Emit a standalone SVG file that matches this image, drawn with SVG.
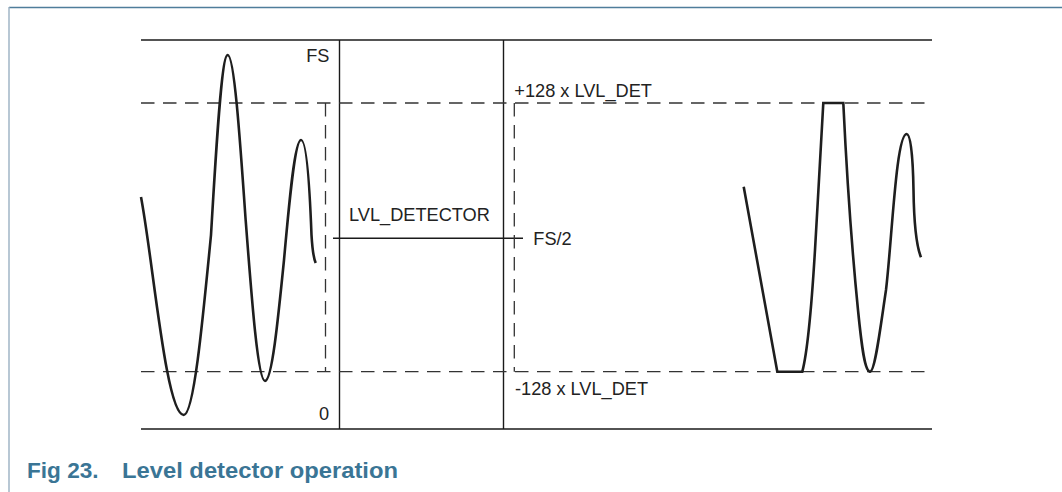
<svg xmlns="http://www.w3.org/2000/svg" width="1062" height="492" viewBox="0 0 1062 492">
<style>
.lbl{font-family:"Liberation Sans",Arial,sans-serif;font-size:18.2px;fill:#222}
.cap{font-family:"Liberation Sans",Arial,sans-serif;font-size:22.6px;font-weight:bold;fill:#3a7595}
.solid{stroke:#1a1a1a;stroke-width:1.4;fill:none}
.dash{stroke:#333;stroke-width:1.3;fill:none;stroke-dasharray:13.5 8.5}
.wave{stroke:#1e1e1e;stroke-width:2.6;fill:none;stroke-linejoin:miter}
</style>
<rect width="1062" height="492" fill="#fff"/>
<g id="frame">
<line x1="9" y1="7.5" x2="1062" y2="7.5" stroke="#4f7d9b" stroke-width="1.6"/>
<line x1="9" y1="7" x2="9" y2="492" stroke="#9ab0c2" stroke-width="1.4"/>
</g>
<g id="axes">
<line class="solid" x1="141" y1="40" x2="932" y2="40" stroke-width="2"/>
<line class="solid" x1="141" y1="429" x2="932" y2="429" stroke-width="2"/>
<line class="solid" x1="339.5" y1="40" x2="339.5" y2="429"/>
<line class="solid" x1="503.5" y1="40" x2="503.5" y2="429"/>
<line class="solid" x1="333" y1="238.3" x2="523" y2="238.3"/>
</g>
<g id="thresholds">
<line class="dash" x1="141" y1="103" x2="932" y2="103"/>
<line class="dash" x1="141" y1="371.7" x2="932" y2="371.7"/>
<path class="dash" d="M325.5,103 V371.7"/>
<path class="dash" d="M514.3,103 V371.7"/>
</g>
<g id="input-wave">
<path class="wave" d="M141,197 C153,260 166,415 183.7,415 C193.6,415 202.1,327.2 211,235 C216.4,142.8 221.7,55 227.7,55 C234.1,55 239.7,134.5 245.5,218 C251.9,301.5 257.9,381 265,381 C271.9,381 277.8,322 284,260 C289.5,198.5 294.8,140 301,140 C307,140 310,195 311.5,235 C312.5,252 313.5,258 315.7,263"/>
</g>
<g id="output-wave">
<path class="wave" d="M743.7,186.7 L777.3,371.7 L802.3,371.7 C808,350 812,300 815,250 C818,200 821,140 823.3,103 L843.3,103 C847,180 853,260 858,310 C862,350 865,371.7 870,371.7 C875,371.7 880,330 886,290 C892,240 896,134 906.7,134 C911,134 913,160 913.5,190 C914,225 916,245 921,257.3"/>
</g>
<g id="labels">
<text class="lbl" x="329.5" y="61.5" text-anchor="end">FS</text>
<text class="lbl" x="329" y="420" text-anchor="end">0</text>
<text class="lbl" x="514.3" y="96.7">+128 x LVL_DET</text>
<text class="lbl" x="349" y="221">LVL_DETECTOR</text>
<text class="lbl" x="533.3" y="244.5">FS/2</text>
<text class="lbl" x="515" y="395">-128 x LVL_DET</text>
</g>
<g id="caption">
<text class="cap" x="27" y="477.7">Fig 23.</text>
<text class="cap" x="122" y="477.7" textLength="276" lengthAdjust="spacingAndGlyphs">Level detector operation</text>
</g>
</svg>
